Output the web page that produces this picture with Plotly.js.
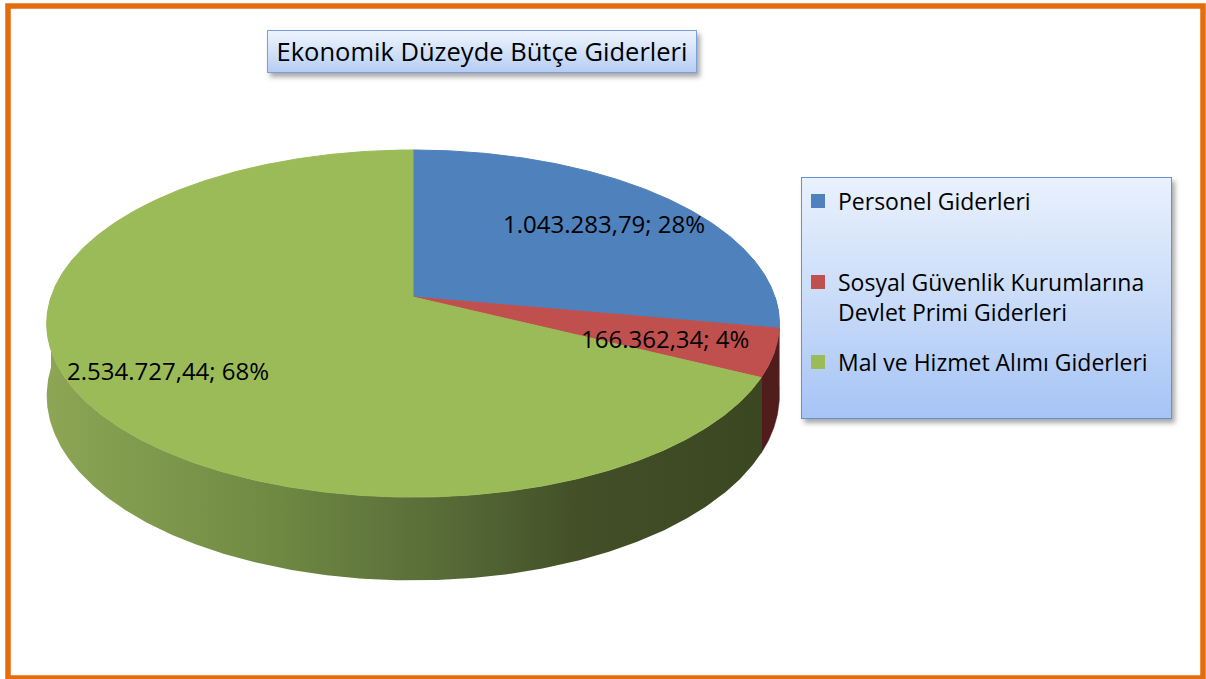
<!DOCTYPE html>
<html>
<head>
<meta charset="utf-8">
<script src="https://cdn.plot.ly/plotly-3.0.1.min.js"></script>
<style>
  html, body { margin: 0; padding: 0; background: #ffffff; }
  #wrap { position: relative; width: 1206px; height: 679px; overflow: hidden; }
  .box { position: absolute; box-sizing: border-box; }
  #titleBox { left: 267px; top: 30px; width: 430px; height: 43px;
    border: 1px solid #7a9fd4;
    background: linear-gradient(to bottom, #eef4fd 0%, #d3e2f9 50%, #b5cdf4 100%);
    box-shadow: 3px 4px 5px rgba(0,0,0,0.35); }
  #legendBox { left: 801px; top: 177px; width: 371px; height: 242px;
    border: 1.5px solid #6592cf;
    background: linear-gradient(to bottom, #e9f1fd 0%, #cadcf8 50%, #a6c4f6 100%);
    box-shadow: 3px 4px 5px rgba(0,0,0,0.35); }
  #chart { position: absolute; left: 0; top: 0; width: 1206px; height: 679px; }
</style>
</head>
<body>
<div id="wrap">
  <div class="box" id="titleBox"></div>
  <div class="box" id="legendBox"></div>
  <div id="chart"></div>
</div>
<script>
// ---- data ----
const chartTitle = 'Ekonomik Düzeyde Bütçe Giderleri';
const categories = ['Personel Giderleri', 'Sosyal Güvenlik Kurumlarına Devlet Primi Giderleri', 'Mal ve Hizmet Alımı Giderleri'];
const legendLabels = ['Personel Giderleri', 'Sosyal Güvenlik Kurumlarına<br>Devlet Primi Giderleri', 'Mal ve Hizmet Alımı Giderleri'];
const values = [1043283.79, 166362.34, 2534727.44];

// ---- styles ----
const topColors = ['#4f81bd', '#c0504d', '#9bbb59'];
const wallColors = ['#2e4c72', '#511d1c', null];
const greenWallScale = [[0, '#8ca655'], [0.3, '#718b44'], [0.55, '#586c38'], [0.75, '#424f27'], [1, '#3b4721']];
const FONT = '"Open Sans", "Noto Sans", sans-serif';

// ---- pie geometry (pixel-space axes) ----
const CX = 413, AY = 297, R = 362, B = 169.5, K = 0.153, DEPTH = 70.5;
function project(deg, h) {
  const t = deg * Math.PI / 180;
  const u = Math.cos(t), v = Math.sin(t);
  const d = 1 + K * v;
  return [CX + R * u / d, AY - B * v / d + h / d];
}
function arc(from, to, h) {
  const xs = [], ys = [];
  const n = Math.max(2, Math.ceil((from - to) / 0.5));
  for (let i = 0; i <= n; i++) {
    const a = from - (from - to) * i / n;
    const p = project(a, h);
    xs.push(p[0]); ys.push(p[1]);
  }
  return [xs, ys];
}

function fmtTR(v) {
  const parts = v.toFixed(2).split('.');
  const intPart = parts[0].replace(/\B(?=(\d{3})+(?!\d))/g, '.');
  return intPart + ',' + parts[1];
}

const total = values.reduce((a, b) => a + b, 0);
const traces = [];
let start = 90;
const spans = values.map(v => {
  const sweep = v / total * 360;
  const s = { a0: start, a1: start - sweep };
  start -= sweep;
  return s;
});

// walls (front half only)
spans.forEach((s, i) => {
  const hi = Math.min(s.a0, 0), lo = Math.max(s.a1, -180);
  if (hi <= lo) return;
  const top = arc(hi, lo, 0);
  const bot = arc(hi, lo, DEPTH);
  const xs = top[0].concat(bot[0].slice().reverse());
  const ys = top[1].concat(bot[1].slice().reverse());
  const tr = {
    type: 'scatter', mode: 'lines', x: xs, y: ys, fill: 'toself',
    line: { width: 0.5, color: wallColors[i] || '#4a5a2b' },
    hoverinfo: 'skip', showlegend: false
  };
  if (wallColors[i]) { tr.fillcolor = wallColors[i]; }
  else { tr.fillgradient = { type: 'horizontal', colorscale: greenWallScale }; tr.line.width = 0; }
  traces.push(tr);
});

// top faces
spans.forEach((s, i) => {
  const a = arc(s.a0, s.a1, 0);
  traces.push({
    type: 'scatter', mode: 'lines',
    x: [CX].concat(a[0]).concat([CX]), y: [AY].concat(a[1]).concat([AY]),
    fill: 'toself', fillcolor: topColors[i],
    line: { width: 1, color: topColors[i] },
    name: categories[i], text: categories[i], hoverinfo: 'text',
    showlegend: false
  });
});

// legend entries (one legend per entry, for Excel-like spacing)
const legendNames = ['legend', 'legend2', 'legend3'];
const legendY = [201, 297, 362];
categories.forEach((c, i) => {
  traces.push({
    type: 'scatter', mode: 'markers', x: [null], y: [null],
    name: legendLabels[i], legend: legendNames[i],
    marker: { symbol: 'square', size: 14, color: topColors[i] },
    showlegend: true, hoverinfo: 'skip'
  });
});

// data labels
const labelPos = [[604, 223], [665, 338], [168, 370]];
const annotations = values.map((v, i) => ({
  xref: 'x', yref: 'y', x: labelPos[i][0], y: labelPos[i][1],
  text: fmtTR(v) + '; ' + Math.round(v / total * 100) + '%',
  showarrow: false, xanchor: 'center', yanchor: 'middle',
  font: { family: FONT, size: 24, color: '#000000' }
}));

const layout = {
  width: 1206, height: 679,
  margin: { l: 0, r: 0, t: 0, b: 0 },
  paper_bgcolor: 'rgba(0,0,0,0)', plot_bgcolor: 'rgba(0,0,0,0)',
  xaxis: { range: [0, 1206], visible: false, fixedrange: true },
  yaxis: { range: [679, 0], visible: false, fixedrange: true },
  title: {
    text: chartTitle, x: 482 / 1206, xanchor: 'center', xref: 'paper',
    y: 1 - 52 / 679, yanchor: 'middle', yref: 'container',
    font: { family: FONT, size: 25.5, color: '#000000' }
  },
  annotations: annotations,
  shapes: [{
    type: 'rect', xref: 'paper', yref: 'paper', x0: 8 / 1206, x1: 1203 / 1206, y0: 1 - 678 / 679, y1: 1 - 6 / 679,
    line: { color: '#e46c0a', width: 5.5 }, fillcolor: 'rgba(0,0,0,0)'
  }],
  showlegend: true,
  hovermode: 'closest'
};
legendNames.forEach((ln, i) => {
  layout[ln] = {
    x: 798 / 1206, y: 1 - legendY[i] / 679, xanchor: 'left', yanchor: 'middle',
    bgcolor: 'rgba(0,0,0,0)', borderwidth: 0, valign: 'top',
    font: { family: FONT, size: 23, color: '#000000' }
  };
});

Plotly.newPlot('chart', traces, layout, { displayModeBar: false });
</script>
</body>
</html>
